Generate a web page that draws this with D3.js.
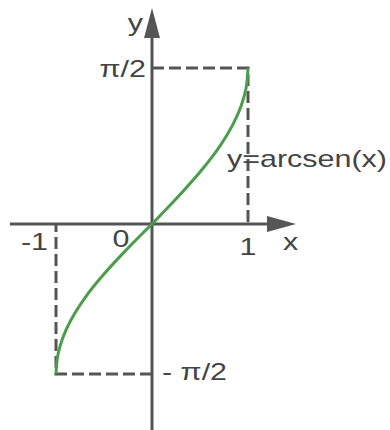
<!DOCTYPE html>
<html>
<head>
<meta charset="utf-8">
<script src="https://cdn.jsdelivr.net/npm/d3@7"></script>
<style>
  body { margin: 0; background: #fff; }
  svg { display: block; }
</style>
</head>
<body>
<div id="chart"></div>
<script>
let curveX = [-1, -0.98, -0.93, -0.85, -0.7, -0.5, -0.3, -0.1, 0, 0.1, 0.3, 0.5, 0.7, 0.85, 0.93, 0.98, 1]
let curveY = [-1.571, -1.37, -1.194, -1.016, -0.775, -0.524, -0.305, -0.1, 0, 0.1, 0.305, 0.524, 0.775, 1.016, 1.194, 1.37, 1.571]

let xTicks = [-1, 0, 1]
let xTickLabels = ['-1', '0', '1']
let yTicks = [Math.PI / 2, -Math.PI / 2]
let yTickLabels = ['π/2', '- π/2']
let curveLabel = 'y=arcsen(x)'

let width = 390
let height = 430
let ink = '#555'
let textColor = '#444'

let svg = d3.select('#chart').append('svg')
    .attr('width', width)
    .attr('height', height)

let x = d3.scaleLinear().domain([-1, 0, 1]).range([56, 152, 248])
let y = d3.scaleLinear().domain([-Math.PI / 2, 0, Math.PI / 2]).range([374, 224, 68])

// dashed guides to the corners (±1, ±π/2)
let guides = svg.append('g')
    .attr('fill', 'none')
    .attr('stroke', ink)
    .attr('stroke-width', 3)
    .attr('stroke-dasharray', '12,5')

guides.append('path')
    .attr('d', `M${x(0)},${y(yTicks[0])}H${x(1)}V${y(0)}`)
guides.append('path')
    .attr('d', `M${x(0)},${y(yTicks[1])}H${x(-1)}V${y(0)}`)

// axes with arrow heads
let axes = svg.append('g').attr('stroke', ink).attr('stroke-width', 3)
axes.append('line')
    .attr('x1', x(-1.48)).attr('x2', x(1.2))
    .attr('y1', y(0)).attr('y2', y(0))
axes.append('line')
    .attr('x1', x(0)).attr('x2', x(0))
    .attr('y1', height).attr('y2', 36)

let tipX = x(1.5)
svg.append('path')
    .attr('fill', ink)
    .attr('d', `M${tipX},${y(0)}L${tipX - 29},${y(0) - 8}L${tipX - 29},${y(0) + 8}Z`)
svg.append('path')
    .attr('fill', ink)
    .attr('d', `M${x(0)},8L${x(0) - 8},38L${x(0) + 8},38Z`)

// the curve
let pts = curveX.map((d, i) => [d, curveY[i]])
svg.append('path')
    .datum(pts)
    .attr('fill', 'none')
    .attr('stroke', '#4a9d4a')
    .attr('stroke-width', 3)
    .attr('d', d3.line()
        .x(d => x(d[0]))
        .y(d => y(d[1]))
        .curve(d3.curveMonotoneY))

// labels (the source picture is stretched sideways)
function label(txt, px, py, anchor) {
  svg.append('g')
      .attr('transform', `translate(${px},${py}) scale(1.27,1)`)
    .append('text')
      .attr('text-anchor', anchor)
      .attr('font-family', 'Liberation Sans, Arial, sans-serif')
      .attr('font-size', 24)
      .attr('fill', textColor)
      .text(txt)
}

label('y', x(0) - 9, 31, 'end')
label('x', tipX - 13, 250, 'start')
label(xTickLabels[0], x(-1) - 8, 250, 'end')
label(xTickLabels[1], x(0) - 31, 247, 'middle')
label(xTickLabels[2], x(1), 255, 'middle')
label(yTickLabels[0], x(0) - 6, y(yTicks[0]) + 9, 'end')
label(yTickLabels[1], x(0) + 10, y(yTicks[1]) + 6, 'start')
label(curveLabel, 227, 167, 'start')
</script>
</body>
</html>
